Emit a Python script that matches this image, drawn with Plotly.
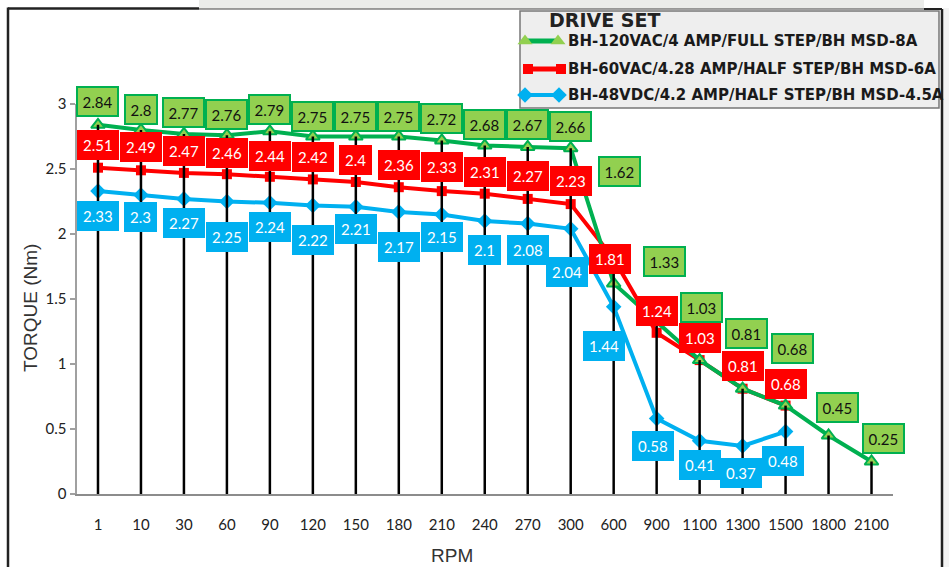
import plotly.graph_objects as go

# ---------------- data ----------------
rpm = ["1", "10", "30", "60", "90", "120", "150", "180", "210", "240", "270", "300",
       "600", "900", "1100", "1300", "1500", "1800", "2100"]
torque_120vac = [2.84, 2.8, 2.77, 2.76, 2.79, 2.75, 2.75, 2.75, 2.72, 2.68, 2.67, 2.66,
                 1.62, 1.33, 1.03, 0.81, 0.68, 0.45, 0.25]
torque_60vac = [2.51, 2.49, 2.47, 2.46, 2.44, 2.42, 2.4, 2.36, 2.33, 2.31, 2.27, 2.23,
                1.81, 1.24, 1.03, 0.81, 0.68]
torque_48vdc = [2.33, 2.3, 2.27, 2.25, 2.24, 2.22, 2.21, 2.17, 2.15, 2.1, 2.08, 2.04,
                1.44, 0.58, 0.41, 0.37, 0.48]
name_120vac = "BH-120VAC/4 AMP/FULL STEP/BH MSD-8A"
name_60vac = "BH-60VAC/4.28 AMP/HALF STEP/BH MSD-6A"
name_48vdc = "BH-48VDC/4.2 AMP/HALF STEP/BH MSD-4.5A"
legend_title = "DRIVE SET"
y_ticks = [0, 0.5, 1, 1.5, 2, 2.5, 3]
y_ticktext = ["0", "0.5", "1", "1.5", "2", "2.5", "3"]

# ---------------- label offsets (pixels: dx right, dy down) ----------------
off_120 = [(0, -23), (0, -21), (0, -21), (0, -21), (0, -22), (0, -20), (0, -20), (0, -20),
           (0, -22), (0, -21), (0, -22), (0, -22), (6, -112), (8, -60), (2, -53), (4, -55),
           (7, -57), (9, -28), (12, -23)]
off_60 = [(0, -23), (0, -23), (0, -22), (0, -21), (0, -21), (0, -22), (0, -22), (0, -22),
          (0, -24), (0, -22), (0, -23), (0, -23), (-4, 0), (0, -22), (0, -22), (0, -23), (0, -22)]
off_48 = [(0, 25), (0, 22), (0, 24), (0, 35), (0, 24), (0, 35), (0, 22), (0, 35), (0, 22),
          (0, 29), (0, 26), (-4, 43), (-10, 39), (-4, 27), (0, 24), (-2, 27), (-3, 29)]

GREEN = "#00B050"
LGREEN = "#92D050"
RED = "#FF0000"
BLUE = "#00B0F0"

W, H = 949, 567
fig = go.Figure()

# series
fig.add_trace(go.Scatter(x=rpm[:len(torque_48vdc)], y=torque_48vdc, mode="lines+markers",
                         line=dict(color=BLUE, width=4),
                         marker=dict(symbol="diamond", size=12, color=BLUE),
                         cliponaxis=False, showlegend=False))
fig.add_trace(go.Scatter(x=rpm[:len(torque_60vac)], y=torque_60vac, mode="lines+markers",
                         line=dict(color=RED, width=4),
                         marker=dict(symbol="square", size=10, color=RED),
                         cliponaxis=False, showlegend=False))
fig.add_trace(go.Scatter(x=rpm, y=torque_120vac, mode="lines+markers",
                         line=dict(color=GREEN, width=4),
                         marker=dict(symbol="triangle-up", size=12, color=LGREEN,
                                     line=dict(color=GREEN, width=2)),
                         cliponaxis=False, showlegend=False))

# drop lines from 0 to the highest series value at each category
dx, dy = [], []
for i, c in enumerate(rpm):
    vals = [s[i] for s in (torque_120vac, torque_60vac, torque_48vdc) if i < len(s)]
    dx += [c, c, None]
    dy += [0, max(vals), None]
fig.add_trace(go.Scatter(x=dx, y=dy, mode="lines", line=dict(color="black", width=2.5),
                         hoverinfo="skip", showlegend=False))

annotations = []


def add_labels(values, offs, fill, border, fcolor, bw, pad):
    for i, v in enumerate(values):
        ox, oy = offs[i]
        annotations.append(dict(
            x=i, y=v, xref="x", yref="y", text=f"{v:g}", showarrow=False,
            xanchor="center", yanchor="middle",
            xshift=ox, yshift=-oy, bgcolor=fill, bordercolor=border, borderwidth=bw,
            borderpad=pad, font=dict(family="Lato, Open Sans, sans-serif", size=15, color=fcolor)))


add_labels(torque_120vac, off_120, LGREEN, GREEN, "#111111", 2, 4.5)
add_labels(torque_60vac, off_60, RED, RED, "white", 1, 5)
add_labels(torque_48vdc, off_48, BLUE, BLUE, "white", 1, 5)

# axis titles
annotations.append(dict(x=30 / W, y=1 - 308 / H, xref="paper", yref="paper", text="TORQUE (Nm)",
                        textangle=-90, showarrow=False, xanchor="center", yanchor="middle",
                        font=dict(family="Liberation Sans, Arial, sans-serif", size=19, color="#333333")))
annotations.append(dict(x=452 / W, y=1 - 555 / H, xref="paper", yref="paper", text="RPM",
                        showarrow=False, xanchor="center", yanchor="middle",
                        font=dict(family="Liberation Sans, Arial, sans-serif", size=19, color="#333333")))

# legend texts
LFONT = dict(family="DejaVu Sans, sans-serif", size=15, color="#1a1a1a")
annotations.append(dict(x=547 / W, y=1 - 20 / H, xref="paper", yref="paper", text="<b>" + legend_title + "</b>",
                        showarrow=False, xanchor="left", yanchor="middle",
                        font=dict(family="DejaVu Sans, sans-serif", size=19, color="#222222")))
for yy, nm in ((41, name_120vac), (69, name_60vac), (95, name_48vdc)):
    annotations.append(dict(x=566 / W, y=1 - yy / H, xref="paper", yref="paper", text="<b>" + nm + "</b>",
                            showarrow=False, xanchor="left", yanchor="middle", font=LFONT))

# legend sample symbols in a pixel-coordinate overlay subplot
fig.add_trace(go.Scatter(x=[525, 558], y=[41, 41], mode="lines+markers", xaxis="x2", yaxis="y2",
                         line=dict(color=GREEN, width=5),
                         marker=dict(symbol="triangle-up", size=13, color=LGREEN),
                         showlegend=False, hoverinfo="skip"))
fig.add_trace(go.Scatter(x=[528, 561], y=[69, 69], mode="lines+markers", xaxis="x2", yaxis="y2",
                         line=dict(color=RED, width=5),
                         marker=dict(symbol="square", size=10, color=RED),
                         showlegend=False, hoverinfo="skip"))
fig.add_trace(go.Scatter(x=[525, 559], y=[95, 95], mode="lines+markers", xaxis="x2", yaxis="y2",
                         line=dict(color=BLUE, width=4),
                         marker=dict(symbol="diamond", size=12, color=BLUE),
                         showlegend=False, hoverinfo="skip"))

shapes = [
    # gray bar at top
    dict(type="rect", xref="paper", yref="paper", x0=199 / W, x1=924 / W, y0=1 - 9 / H, y1=1,
         fillcolor="#ebecea", line=dict(width=0), layer="below"),
    dict(type="line", xref="paper", yref="paper", x0=199 / W, x1=924 / W, y0=1 - 9 / H, y1=1 - 9 / H,
         line=dict(color="#444444", width=1), layer="below"),
    # right strip
    dict(type="rect", xref="paper", yref="paper", x0=943 / W, x1=1, y0=0, y1=1 - 8 / H,
         fillcolor="#f3f3f3", line=dict(width=0), layer="below"),
    # frame
    dict(type="line", xref="paper", yref="paper", x0=8 / W, x1=199 / W, y0=1 - 8.5 / H, y1=1 - 8.5 / H,
         line=dict(color="#222222", width=2.5), layer="below"),
    dict(type="line", xref="paper", yref="paper", x0=8 / W, x1=8 / W, y0=0, y1=1 - 7.5 / H,
         line=dict(color="#222222", width=2.5), layer="below"),
    dict(type="line", xref="paper", yref="paper", x0=924 / W, x1=942 / W, y0=1 - 9 / H, y1=1 - 9 / H,
         line=dict(color="#222222", width=2), layer="below"),
    dict(type="line", xref="paper", yref="paper", x0=942 / W, x1=942 / W, y0=0, y1=1 - 9 / H,
         line=dict(color="#222222", width=2.5), layer="below"),
    # legend box
    dict(type="rect", xref="paper", yref="paper", x0=520 / W, x1=939 / W, y0=1 - 108 / H, y1=1 - 11 / H,
         fillcolor="#eeeeee", line=dict(color="#777777", width=1.5), layer="below"),
]

fig.update_layout(
    width=W, height=H, autosize=False,
    margin=dict(l=0, r=0, t=0, b=0, pad=0, autoexpand=False),
    paper_bgcolor="white", plot_bgcolor="rgba(0,0,0,0)",
    showlegend=False,
    xaxis=dict(domain=[76.5 / W, 893 / W], type="category", categoryorder="array", categoryarray=rpm,
               range=[-0.5, len(rpm) - 0.5], showgrid=False, zeroline=False,
               showline=True, linecolor="#8c8c8c", linewidth=2, ticks="",
               ticklabelstandoff=16,
               tickfont=dict(family="Lato, Open Sans, sans-serif", size=15, color="#222222"),
               fixedrange=True),
    yaxis=dict(domain=[(H - 494) / H, (H - 104) / H], range=[0, 3], tickvals=y_ticks, ticktext=y_ticktext,
               showgrid=False, zeroline=False, showline=True, linecolor="#a0a0a0", linewidth=2,
               ticks="outside", ticklen=5, tickcolor="#a0a0a0", tickwidth=2,
               tickfont=dict(family="Lato, Open Sans, sans-serif", size=15, color="#222222"),
               fixedrange=True),
    xaxis2=dict(domain=[0, 1], range=[0, W], visible=False, anchor="y2", fixedrange=True),
    yaxis2=dict(domain=[0, 1], range=[H, 0], visible=False, anchor="x2", fixedrange=True),
    annotations=annotations,
    shapes=shapes,
)

fig.write_html("out.html", config={"displayModeBar": False},
               post_script="document.body.style.margin='0';document.body.style.overflow='hidden';")
